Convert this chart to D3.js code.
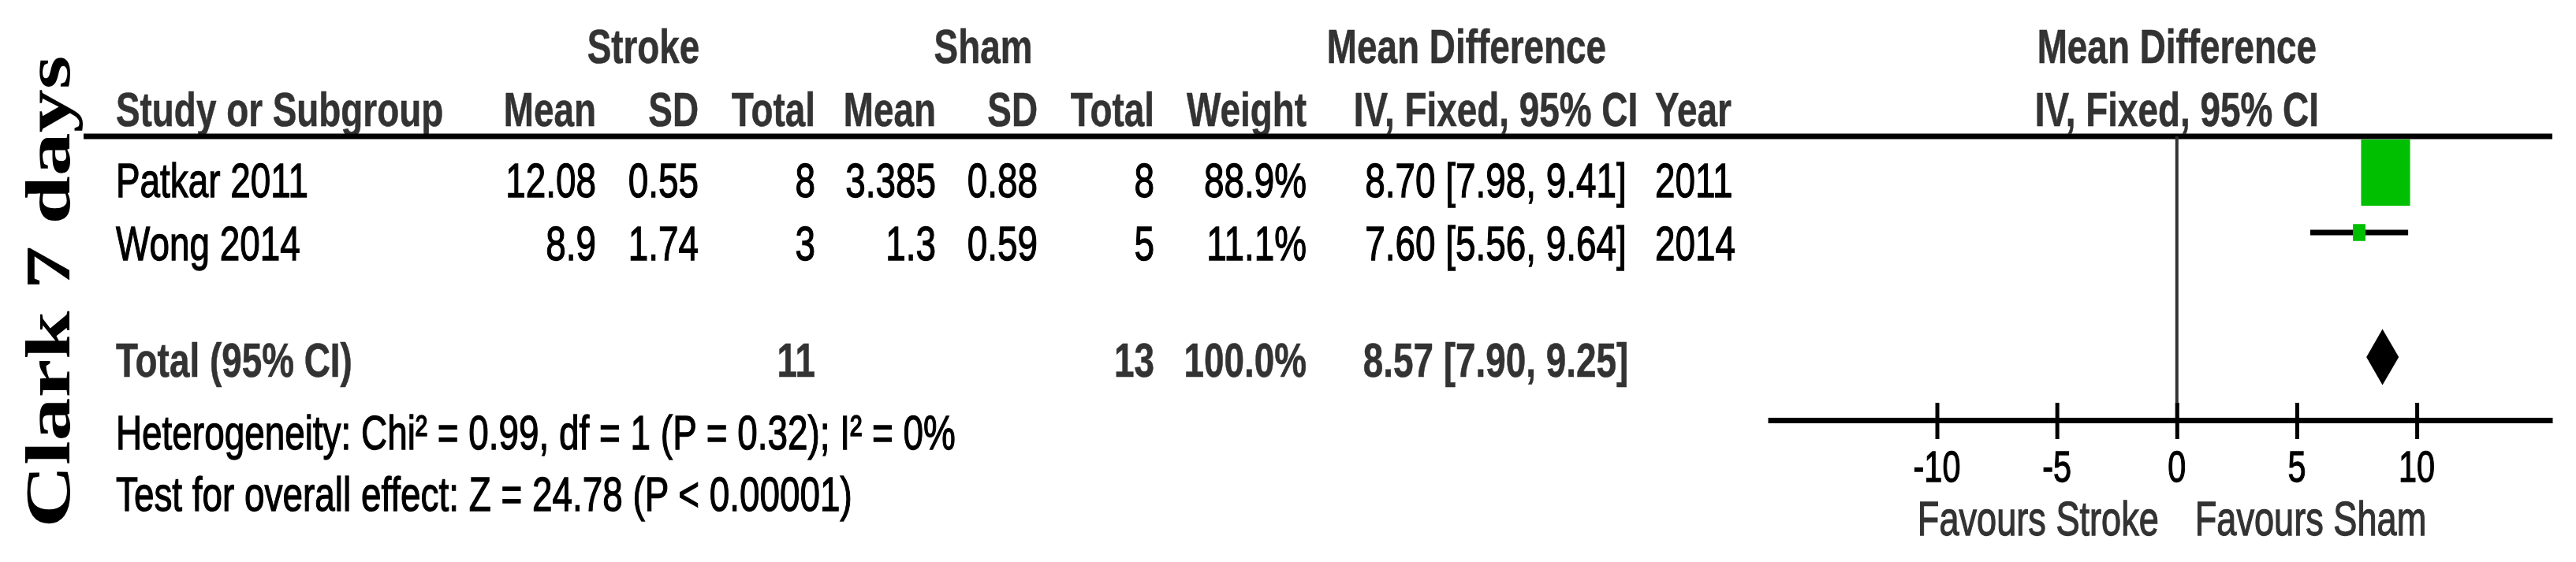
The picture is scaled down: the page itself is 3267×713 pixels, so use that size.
<!DOCTYPE html>
<html>
<head>
<meta charset="utf-8">
<script src="https://cdn.jsdelivr.net/npm/d3@7"></script>
<style>
  html, body { margin: 0; padding: 0; background: #fff; }
  svg { display: block; }
</style>
</head>
<body>
<svg id="chart" width="3267" height="713"></svg>
<script>
// ---------------- DATA ----------------
const sideTitle   = "Clark 7 days";
const studies     = ["Patkar 2011", "Wong 2014"];
const strokeMean  = [12.08, 8.9];
const strokeSD    = [0.55, 1.74];
const strokeTotal = [8, 3];
const shamMean    = [3.385, 1.3];
const shamSD      = [0.88, 0.59];
const shamTotal   = [8, 5];
const weights     = [88.9, 11.1];
const md          = [8.70, 7.60];
const ciLow       = [7.98, 5.56];
const ciHigh      = [9.41, 9.64];
const years       = [2011, 2014];

const totalLabel  = "Total (95% CI)";
const totalStroke = 11;
const totalSham   = 13;
const totalWeight = 100.0;
const totalMD     = 8.57;
const totalLow    = 7.90;
const totalHigh   = 9.25;

const heterogeneity = "Heterogeneity: Chi\u00B2 = 0.99, df = 1 (P = 0.32); I\u00B2 = 0%";
const overallTest   = "Test for overall effect: Z = 24.78 (P < 0.00001)";

const tickValues  = [-10, -5, 0, 5, 10];
const favLeft     = "Favours Stroke";
const favRight    = "Favours Sham";

const groupHeaders = ["Stroke", "Sham", "Mean Difference"];
const colHeaders   = ["Study or Subgroup", "Mean", "SD", "Total", "Mean", "SD", "Total", "Weight", "IV, Fixed, 95% CI", "Year"];
const plotHeader1  = "Mean Difference";
const plotHeader2  = "IV, Fixed, 95% CI";

// ---------------- LAYOUT ----------------
const SX = 0.74;               // horizontal compression of the whole figure
const SANS = "'Liberation Sans', Arial, sans-serif";
const SERIF = "'Liberation Serif', 'Times New Roman', serif";
const DARK = "#333333";
const GREEN = "#00bf00";

const svg = d3.select("#chart");

const x = d3.scaleLinear().domain([-17.05, 15.65]).range([2242, 3237]);

// row positions (text baselines and marker centres)
const rowKeys = ["hdr1", "hdr2", ...studies, "total", "het", "test"];
const textY = d3.scaleOrdinal().domain(rowKeys).range([80, 160, 250, 330, 478, 570, 648]);
const markY = d3.scaleOrdinal().domain([...studies, "total"]).range([219, 295, 453]);
const sideScale = d3.scaleLinear().domain([11.1, 88.9]).range([21.5, 84]);

// table column anchors
const cols = [
  {x: 147,  anchor: "start"},   // study
  {x: 756,  anchor: "end"},     // stroke mean
  {x: 886,  anchor: "end"},     // stroke sd
  {x: 1034, anchor: "end"},     // stroke total
  {x: 1187, anchor: "end"},     // sham mean
  {x: 1316, anchor: "end"},     // sham sd
  {x: 1464, anchor: "end"},     // sham total
  {x: 1657, anchor: "end"},     // weight
  {x: 1897, anchor: "middle"},  // CI
  {x: 2099, anchor: "start"}    // year
];
const groupX = [816, 1247, 1860];

function txt(px, py, s, o = {}) {
  const fill = o.fill || "#000";
  return svg.append("text")
    .attr("transform", `translate(${px},${py}) scale(${o.sx || SX},1)`)
    .attr("text-anchor", o.anchor || "start")
    .attr("font-family", o.family || SANS)
    .attr("font-size", o.size || 62)
    .attr("font-weight", o.weight || "normal")
    .attr("fill", fill)
    .attr("stroke", fill)
    .attr("stroke-width", o.weight === "bold" ? 0.6 : 1.3)
    .text(s);
}

// ---------------- SIDE TITLE ----------------
svg.append("text")
  .attr("transform", `translate(88,370) scale(${SX},1) rotate(-90)`)
  .attr("text-anchor", "middle")
  .attr("font-family", SERIF)
  .attr("font-weight", "bold")
  .attr("font-size", 110)
  .attr("fill", "#000")
  .text(sideTitle);

// ---------------- HEADERS ----------------
groupHeaders.forEach((h, i) => txt(groupX[i], textY("hdr1"), h, {anchor: "middle", weight: "bold", fill: DARK}));
colHeaders.forEach((h, i) => txt(cols[i].x, textY("hdr2"), h, {anchor: cols[i].anchor, weight: "bold", fill: DARK}));
txt(x(0), textY("hdr1"), plotHeader1, {anchor: "middle", weight: "bold", fill: DARK});
txt(x(0), textY("hdr2"), plotHeader2, {anchor: "middle", weight: "bold", fill: DARK});

// ---------------- STUDY ROWS ----------------
studies.forEach((s, i) => {
  const vals = [
    s, String(strokeMean[i]), String(strokeSD[i]), String(strokeTotal[i]),
    String(shamMean[i]), String(shamSD[i]), String(shamTotal[i]),
    weights[i].toFixed(1) + "%",
    `${md[i].toFixed(2)} [${ciLow[i].toFixed(2)}, ${ciHigh[i].toFixed(2)}]`,
    String(years[i])
  ];
  vals.forEach((v, c) => txt(cols[c].x, textY(s), v, {anchor: cols[c].anchor}));
});

// total row
const tY = textY("total");
txt(cols[0].x, tY, totalLabel, {anchor: "start", weight: "bold", fill: DARK});
txt(cols[3].x, tY, String(totalStroke), {anchor: "end", weight: "bold", fill: DARK});
txt(cols[6].x, tY, String(totalSham), {anchor: "end", weight: "bold", fill: DARK});
txt(cols[7].x, tY, totalWeight.toFixed(1) + "%", {anchor: "end", weight: "bold", fill: DARK});
txt(cols[8].x, tY, `${totalMD.toFixed(2)} [${totalLow.toFixed(2)}, ${totalHigh.toFixed(2)}]`, {anchor: "middle", weight: "bold", fill: DARK});

txt(cols[0].x, textY("het"), heterogeneity);
txt(cols[0].x, textY("test"), overallTest);

// ---------------- RULES & AXIS ----------------
const topRuleY = 173;
const axisY = 533;
svg.append("line").attr("x1", 106).attr("x2", x.range()[1])
  .attr("y1", topRuleY).attr("y2", topRuleY)
  .attr("stroke", "#000").attr("stroke-width", 7);

// zero line
svg.append("line").attr("x1", x(0)).attr("x2", x(0))
  .attr("y1", topRuleY).attr("y2", axisY)
  .attr("stroke", DARK).attr("stroke-width", 4);

// bottom axis via d3.axisBottom
const axisG = svg.append("g").attr("transform", `translate(0,${axisY})`)
  .call(d3.axisBottom(x).tickValues(tickValues).tickSize(0).tickSizeOuter(0).tickFormat(""));
axisG.select(".domain").attr("stroke", "#000").attr("stroke-width", 7);
axisG.selectAll(".tick line").remove();
axisG.selectAll(".tick").append("line")
  .attr("y1", -22).attr("y2", 24)
  .attr("stroke", "#000").attr("stroke-width", 5);
axisG.selectAll(".tick text").remove();
tickValues.forEach(v => txt(x(v), 611, String(v), {anchor: "middle", size: 56}));

txt(x(0) - 23, 679, favLeft, {anchor: "end", size: 61, fill: DARK});
txt(x(0) + 23, 679, favRight, {anchor: "start", size: 61, fill: DARK});

// ---------------- MARKERS ----------------
studies.forEach((s, i) => {
  const cy = markY(s);
  svg.append("line")
    .attr("x1", x(ciLow[i])).attr("x2", x(ciHigh[i]))
    .attr("y1", cy).attr("y2", cy)
    .attr("stroke", "#000").attr("stroke-width", 7);
  const side = sideScale(weights[i]);
  const w = side * SX;
  svg.append("rect")
    .attr("x", x(md[i]) - w / 2).attr("y", cy - side / 2)
    .attr("width", w).attr("height", side)
    .attr("fill", GREEN);
});

const dY = markY("total");
const dH = 35.5;
svg.append("path")
  .attr("d", d3.line()([
    [x(totalLow), dY], [x(totalMD), dY - dH], [x(totalHigh), dY], [x(totalMD), dY + dH]
  ]) + "Z")
  .attr("fill", "#000");
</script>
</body>
</html>
